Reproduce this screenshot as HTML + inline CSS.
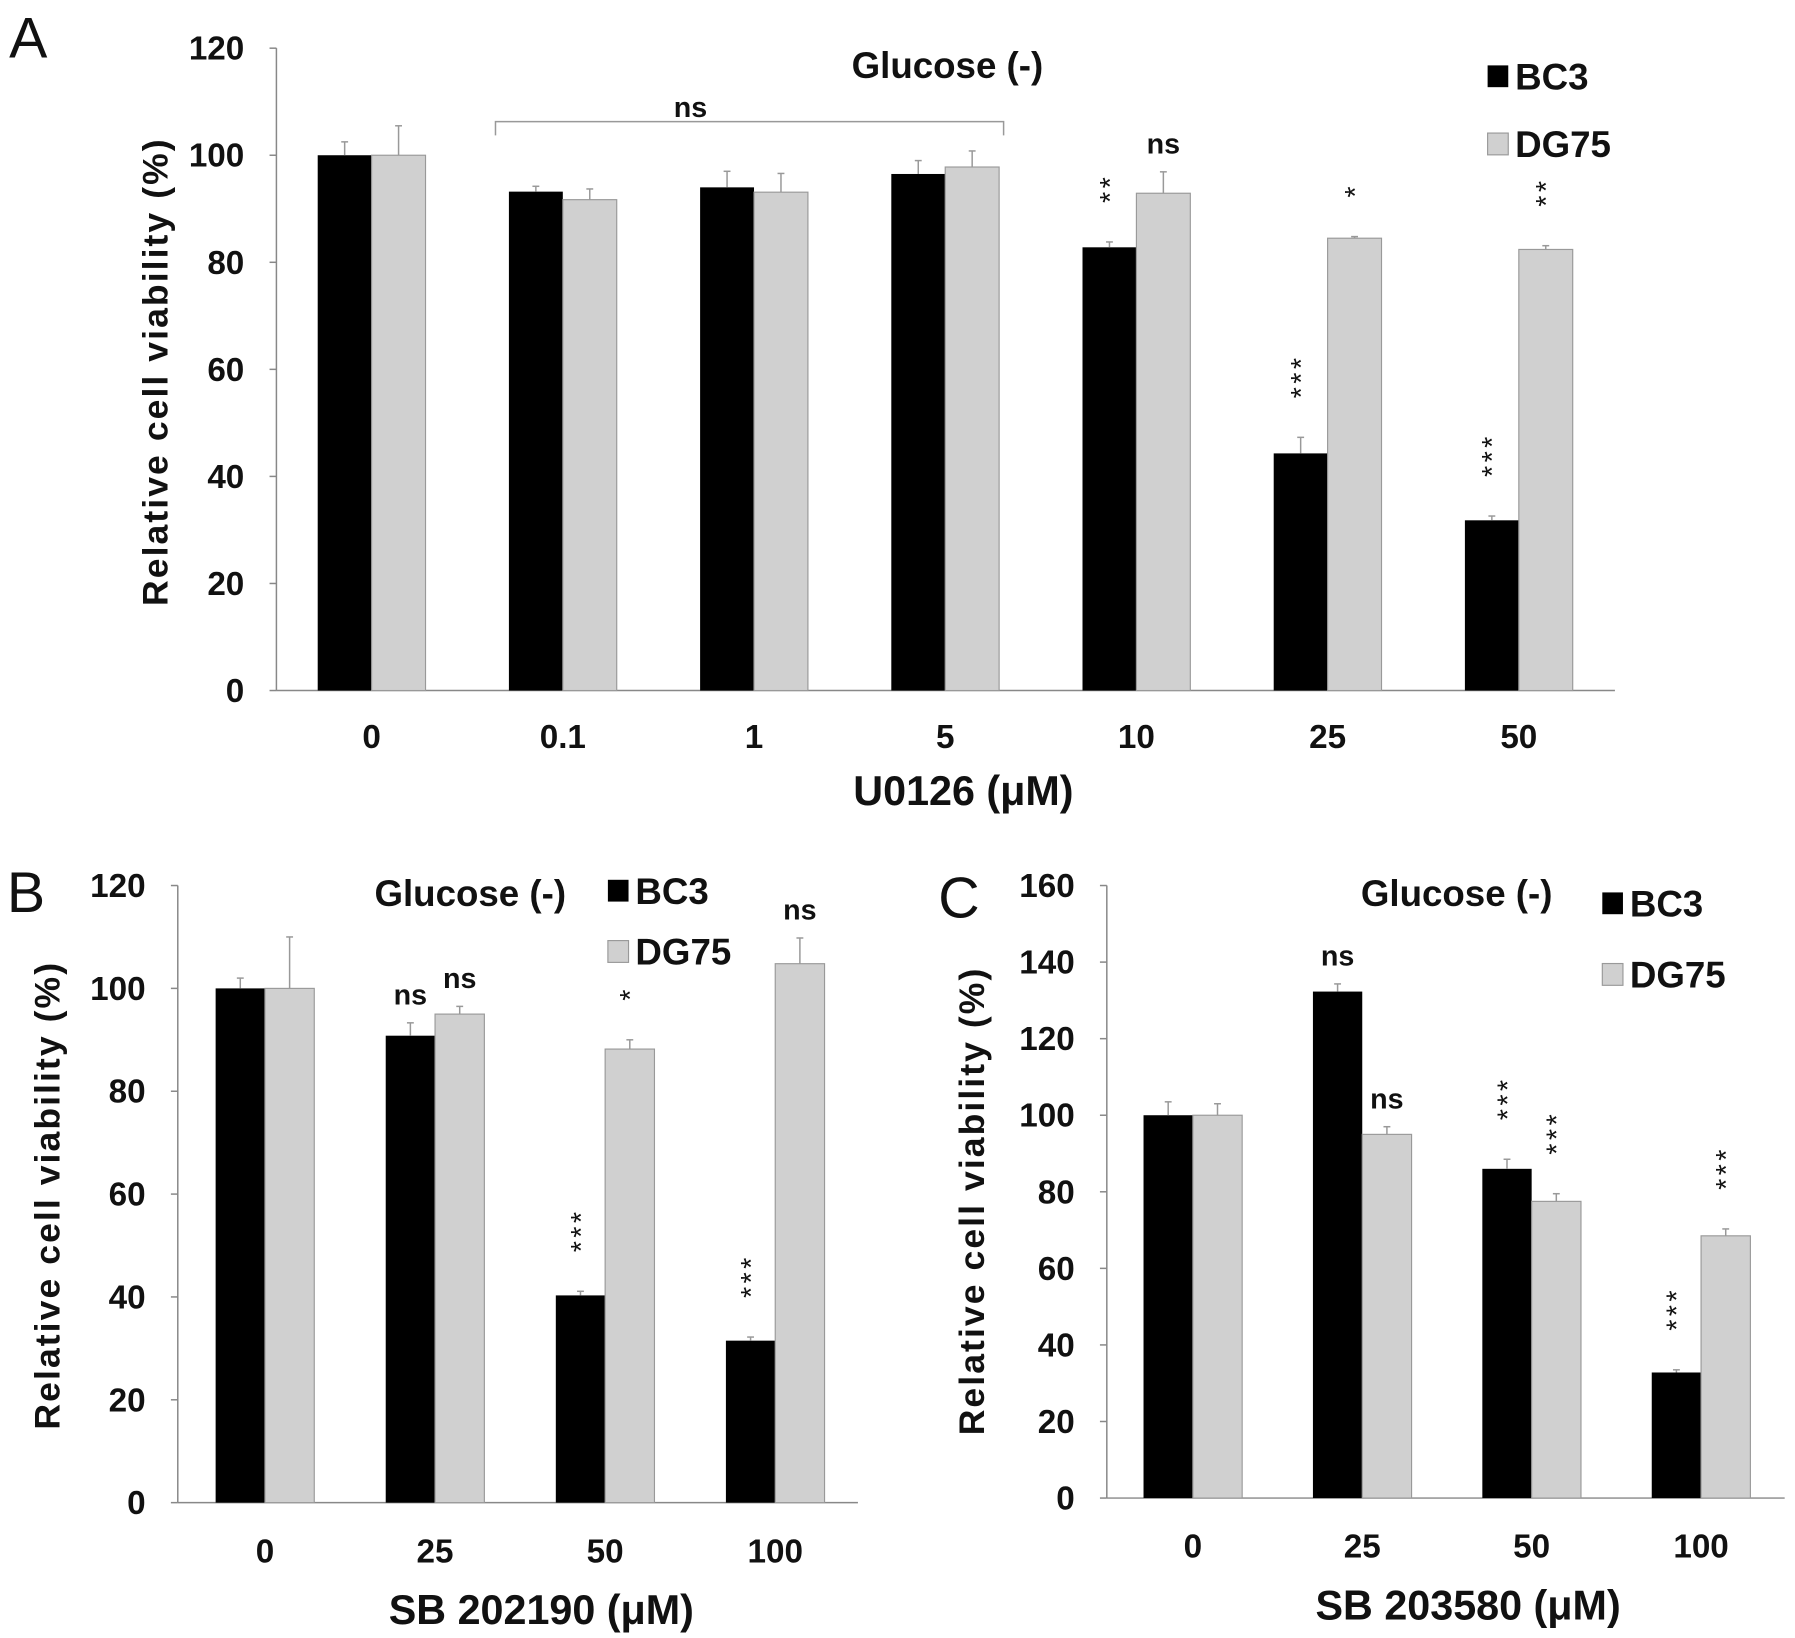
<!DOCTYPE html>
<html><head><meta charset="utf-8"><style>
html,body{margin:0;padding:0;background:#fff}
svg{display:block}
text{font-family:"Liberation Sans",sans-serif;fill:#111}
</style></head><body>
<svg id="fig" width="1795" height="1638" viewBox="0 0 1565 1428" preserveAspectRatio="none" xmlns="http://www.w3.org/2000/svg"></svg>
<script>
// Panel A data
const catsA = ["0","0.1","1","5","10","25","50"];
const bc3A = [100,93.2,94,96.5,82.8,44.3,31.8];
const bc3ErrA = [2.5,1,3,2.5,1,3,0.8];
const dg75A = [100,91.7,93.1,97.8,92.9,84.5,82.4];
const dg75ErrA = [5.5,2,3.5,3,4,0.3,0.7];
const ticksA = [0,20,40,60,80,100,120];
const sigBc3A = ["","","","","**","***","***"];
const sigDgA = ["","","","","ns","*","**"];
// Panel B data
const catsB = ["0","25","50","100"];
const bc3B = [100,90.8,40.3,31.5];
const bc3ErrB = [2,2.5,0.8,0.7];
const dg75B = [100,95,88.2,104.8];
const dg75ErrB = [10,1.5,1.8,5];
const ticksB = [0,20,40,60,80,100,120];
const sigBc3B = ["","ns","***","***"];
const sigDgB = ["","ns","*","ns"];
// Panel C data
const catsC = ["0","25","50","100"];
const bc3C = [100,132.3,86,32.8];
const bc3ErrC = [3.5,2,2.5,0.7];
const dg75C = [100,95,77.5,68.5];
const dg75ErrC = [3,2,2,1.8];
const ticksC = [0,20,40,60,80,100,120,140,160];
const sigBc3C = ["","ns","***","***"];
const sigDgC = ["","ns","***","***"];

const NS="http://www.w3.org/2000/svg";
const svg=document.getElementById('fig');
function mk(tag,attrs,parent){const e=document.createElementNS(NS,tag);for(const k in attrs)e.setAttribute(k,attrs[k]);(parent||svg).appendChild(e);return e;}
function txt(s,attrs,parent){const e=mk('text',attrs,parent);e.textContent=s;return e;}

function panel(cfg){
  const g=mk('g',{});
  
  
  const yMax=cfg.ticks[cfg.ticks.length-1];
  const y=v=>cfg.y0-(v/yMax)*(cfg.y0-cfg.yTop);
  const x=i=>cfg.c0+i*cfg.step;
  const bw=cfg.bw;
  const ya=mk('line',{x1:cfg.ax,y1:cfg.yTop,x2:cfg.ax,y2:cfg.y0,stroke:'#888','stroke-width':1.3},g);
  
  const xa=mk('line',{x1:cfg.ax,y1:cfg.y0,x2:cfg.axEnd,y2:cfg.y0,stroke:'#888','stroke-width':1.3},g);
  
  cfg.ticks.forEach(t=>{
    mk('line',{x1:cfg.ax-6,y1:y(t),x2:cfg.ax,y2:y(t),stroke:'#888','stroke-width':1.3},g);
    const l=txt(String(t),{x:cfg.ax-28,y:y(t)+10,'text-anchor':'end','font-size':29,'font-weight':'bold'},g);
    
  });
  cfg.cats.forEach((c,i)=>{
    const cx=x(i);
    const b=mk('rect',{x:cx-bw,y:y(cfg.bc3[i]),width:bw,height:cfg.y0-y(cfg.bc3[i]),fill:'#000'},g);
    
    const d=mk('rect',{x:cx,y:y(cfg.dg[i]),width:bw,height:cfg.y0-y(cfg.dg[i]),fill:'#d0d0d0',stroke:'#999','stroke-width':1},g);
    
    const e1=mk('line',{x1:cx-bw/2,y1:y(cfg.bc3[i]),x2:cx-bw/2,y2:y(cfg.bc3[i]+cfg.bc3Err[i]),stroke:'#999','stroke-width':1.3},g);
    
    mk('line',{x1:cx-bw/2-3,y1:y(cfg.bc3[i]+cfg.bc3Err[i]),x2:cx-bw/2+3,y2:y(cfg.bc3[i]+cfg.bc3Err[i]),stroke:'#999','stroke-width':1.3},g);
    const e2=mk('line',{x1:cx+bw/2,y1:y(cfg.dg[i]),x2:cx+bw/2,y2:y(cfg.dg[i]+cfg.dgErr[i]),stroke:'#999','stroke-width':1.3},g);
    
    mk('line',{x1:cx+bw/2-3,y1:y(cfg.dg[i]+cfg.dgErr[i]),x2:cx+bw/2+3,y2:y(cfg.dg[i]+cfg.dgErr[i]),stroke:'#999','stroke-width':1.3},g);
    const tl=txt(c,{x:cx,y:cfg.tickY,'text-anchor':'middle','font-size':29,'font-weight':'bold'},g);
    
    [[cfg.sigBc3[i],cx-bw/2,cfg.bc3[i]+cfg.bc3Err[i]],[cfg.sigDg[i],cx+bw/2,cfg.dg[i]+cfg.dgErr[i]]].forEach(([s,sx,v])=>{
      if(!s)return;
      let a;
      if(s==='ns'){a=txt('ns',{x:sx,y:y(v)-16,'text-anchor':'middle','font-size':25,'font-weight':'bold'},g);}
      else{const top=y(v)-34;a=txt(s,{x:0,y:0,'text-anchor':'start','font-size':25,'letter-spacing':3,transform:`translate(${sx+9},${top}) rotate(-90)`},g);}
      
    });
  });
  const t=txt('Glucose (-)',{x:cfg.titleX,y:cfg.titleY,'text-anchor':'middle','font-size':32,'font-weight':'bold'},g);
  
  const xl=txt(cfg.xlabel,{x:cfg.xlX,y:cfg.xlY,'text-anchor':'middle','font-size':36,'font-weight':'bold'},g);
  
  const yl=txt('Relative cell viability (%)',{x:0,y:0,'text-anchor':'middle','font-size':31,'font-weight':'bold','letter-spacing':1.8,transform:`translate(${cfg.ylX},${cfg.ylY}) rotate(-90)`},g);
  
  const pl=txt(cfg.letter,{x:cfg.letX,y:cfg.letY,'font-size':50},g);
  
  const L=cfg.leg;
  const lb=mk('rect',{x:L[0],y:L[1],width:18,height:19,fill:'#000'},g);
  
  const lbt=txt('BC3',{x:L[0]+24,y:L[1]+21,'font-size':32,'font-weight':'bold'},g);
  
  const lg=mk('rect',{x:L[0],y:L[2],width:18,height:19,fill:'#d0d0d0',stroke:'#999'},g);
  
  const lgt=txt('DG75',{x:L[0]+24,y:L[2]+21,'font-size':32,'font-weight':'bold'},g);
  
  return {g,x,y};
}

const A=panel({name:'panel-a',cats:catsA,bc3:bc3A,bc3Err:bc3ErrA,dg:dg75A,dgErr:dg75ErrA,ticks:ticksA,sigBc3:sigBc3A,sigDg:sigDgA,
  ax:241,axEnd:1408,y0:602,yTop:42,c0:324,step:166.7,bw:47,tickY:652,titleX:826,titleY:68,xlabel:'U0126 (\u03BCM)',xlX:840,xlY:702,
  ylX:146,ylY:324,letter:'A',letX:8,letY:50,leg:[1297,57,116]});
const br=mk('path',{d:'M432,118 V106 H875 V118',fill:'none',stroke:'#999','stroke-width':1.3},A.g);

const bt=txt('ns',{x:602,y:102,'text-anchor':'middle','font-size':25,'font-weight':'bold'},A.g);


panel({name:'panel-b',cats:catsB,bc3:bc3B,bc3Err:bc3ErrB,dg:dg75B,dgErr:dg75ErrB,ticks:ticksB,sigBc3:sigBc3B,sigDg:sigDgB,
  ax:155,axEnd:748,y0:1310,yTop:772,c0:231,step:148.3,bw:43,tickY:1362,titleX:410,titleY:790,xlabel:'SB 202190 (\u03BCM)',xlX:472,xlY:1416,
  ylX:52,ylY:1042,letter:'B',letX:6,letY:795,leg:[530,767,820]});
panel({name:'panel-c',cats:catsC,bc3:bc3C,bc3Err:bc3ErrC,dg:dg75C,dgErr:dg75ErrC,ticks:ticksC,sigBc3:sigBc3C,sigDg:sigDgC,
  ax:965,axEnd:1556,y0:1306,yTop:772,c0:1040,step:147.7,bw:43,tickY:1358,titleX:1270,titleY:790,xlabel:'SB 203580 (\u03BCM)',xlX:1280,xlY:1412,
  ylX:858,ylY:1047,letter:'C',letX:818,letY:800,leg:[1397,778,840]});
</script>
</body></html>
